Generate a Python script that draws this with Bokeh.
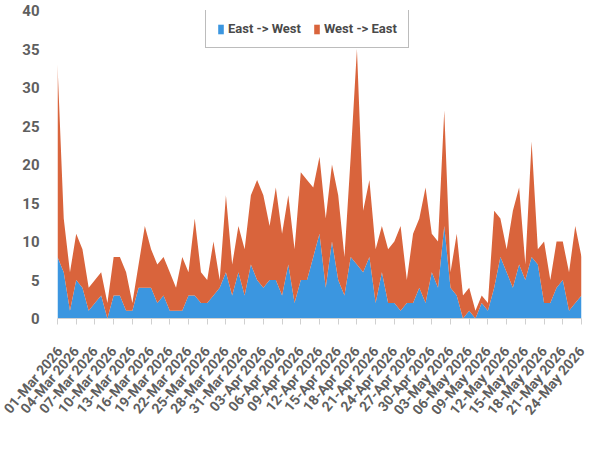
import pandas as pd
from bokeh.plotting import figure
from bokeh.models import ColumnDataSource, FixedTicker, DatetimeTickFormatter, Legend, LegendItem
from bokeh.embed import file_html
from bokeh.resources import INLINE

# Daily crossings, 01-Mar-2026 .. 24-May-2026
dates = pd.date_range("2026-03-01", "2026-05-24", freq="D")

east_west = [8, 6, 1, 5, 4, 1, 2, 3, 0, 3, 3, 1, 1, 4, 4, 4, 2, 3, 1, 1, 1,
             3, 3, 2, 2, 3, 4, 6, 3, 6, 3, 7, 5, 4, 5, 5, 3, 7, 2, 5, 5,
             8, 11, 4, 10, 5, 3, 8, 7, 6, 8, 2, 6, 2, 2, 1, 2, 2, 4, 2, 6,
             4, 12, 4, 3, 0, 1, 0, 2, 1, 4, 8, 6, 4, 7, 5, 8, 7, 2, 2, 4,
             5, 1, 2, 3]

total = [33, 13, 6, 11, 9, 4, 5, 6, 2, 8, 8, 6, 2, 7, 12, 9, 7, 8, 6, 4, 8,
         6, 13, 6, 5, 10, 5, 16, 7, 12, 9, 16, 18, 16, 12, 17, 11, 16, 9, 19, 18,
         17, 21, 13, 20, 16, 8, 21, 35, 14, 18, 9, 12, 9, 10, 12, 5, 11, 13, 17, 11,
         10, 27, 6, 11, 3, 4, 1, 3, 2, 14, 13, 9, 14, 17, 7, 23, 9, 10, 5, 10,
         10, 6, 12, 8]

west_east = [t - e for t, e in zip(total, east_west)]

series_names = ["East -> West", "West -> East"]
colors = ["#3b96e0", "#d9643c"]

source = ColumnDataSource(data=dict(date=dates, east_west=east_west, west_east=west_east))

p = figure(width=600, height=450, x_axis_type="datetime",
           x_range=(dates[0], dates[-1]), y_range=(0, 40),
           output_backend="svg", toolbar_location=None,
           min_border_left=57, min_border_right=19,
           min_border_top=10, min_border_bottom=132)

renderers = p.varea_stack(["east_west", "west_east"], x="date", color=colors, source=source)

# axes
tick_dates = dates[::3]
p.xaxis.ticker = FixedTicker(ticks=[d.value / 1e6 for d in tick_dates])
p.xaxis.formatter = DatetimeTickFormatter(days="%d-%b %Y", months="%d-%b %Y")
p.xaxis.major_label_orientation = 0.87
p.xaxis.major_label_text_font = "Roboto"
p.xaxis.major_label_text_font_style = "bold"
p.xaxis.major_label_text_font_size = "14px"
p.xaxis.major_label_text_color = "#5f5f5f"
p.xaxis.major_label_standoff = 24
p.xaxis.axis_line_color = "#d0d0d0"
p.xaxis.major_tick_line_color = "#d0d0d0"
p.xaxis.major_tick_in = 0
p.xaxis.major_tick_out = 6
p.xaxis.minor_tick_line_color = None

p.yaxis.ticker = FixedTicker(ticks=[0, 5, 10, 15, 20, 25, 30, 35, 40])
p.yaxis.axis_line_color = None
p.yaxis.major_tick_line_color = None
p.yaxis.minor_tick_line_color = None
p.yaxis.major_label_text_font = "Roboto"
p.yaxis.major_label_text_font_style = "bold"
p.yaxis.major_label_text_font_size = "15px"
p.yaxis.major_label_text_color = "#5f5f5f"
p.yaxis.major_label_standoff = 12

p.xgrid.grid_line_color = None
p.ygrid.grid_line_color = None
p.outline_line_color = None

legend = Legend(items=[LegendItem(label=series_names[i], renderers=[renderers[i]]) for i in range(2)],
                orientation="horizontal", location=(148, 270))
legend.border_line_color = "#7a7a7a"
legend.border_line_width = 1.5
legend.label_text_font = "Roboto"
legend.label_text_font_style = "bold"
legend.label_text_font_size = "13px"
legend.label_text_color = "#4a4a4a"
legend.glyph_width = 7
legend.glyph_height = 12
legend.label_standoff = 4
legend.spacing = 12
legend.padding = 11
legend.margin = 0
p.add_layout(legend, "center")

open("out.html", "w").write(file_html(p, INLINE))
